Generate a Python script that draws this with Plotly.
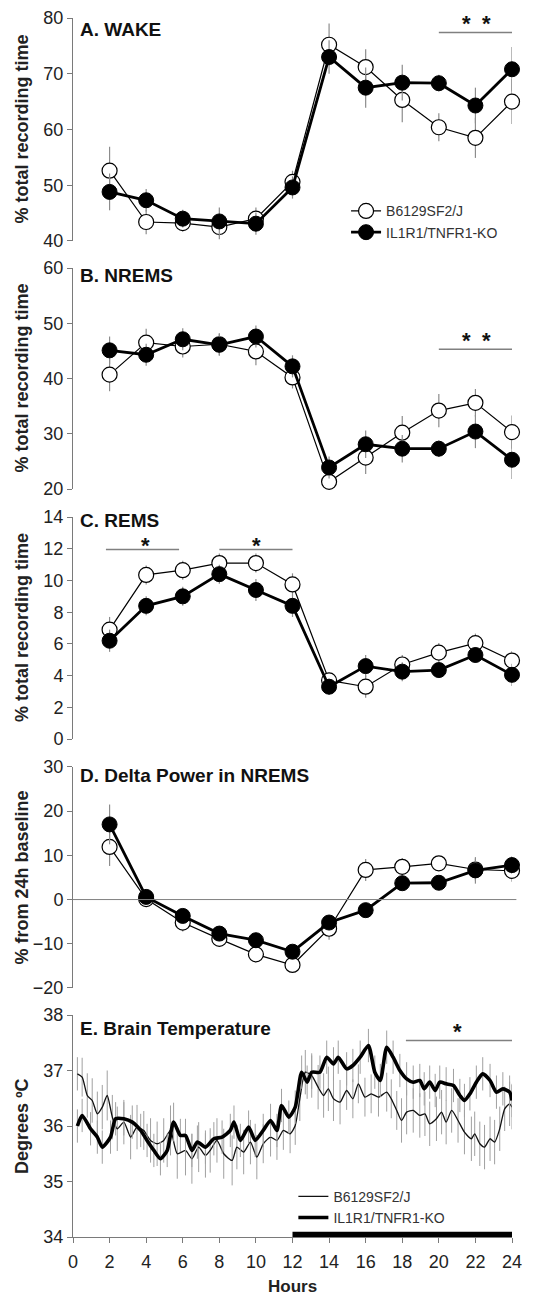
import plotly.graph_objects as go

# ---------------- data ----------------
hours = [2, 4, 6, 8, 10, 12, 14, 16, 18, 20, 22, 24]

wake_wt = [52.6, 43.4, 43.2, 42.5, 44.0, 50.6, 75.2, 71.2, 65.3, 60.4, 58.5, 65.0]
wake_wt_se = [4.3, 2.2, 1.5, 2.2, 2.0, 2.0, 3.8, 3.2, 4.0, 2.5, 3.6, 4.0]
wake_ko = [48.8, 47.3, 44.0, 43.5, 43.1, 49.6, 73.0, 67.5, 68.4, 68.3, 64.3, 70.8]
wake_ko_se = [3.3, 2.0, 1.6, 2.5, 2.0, 2.0, 3.0, 3.6, 3.2, 1.5, 3.2, 4.0]

nrems_wt = [40.7, 46.5, 45.8, 46.2, 44.9, 40.2, 21.3, 25.7, 30.2, 34.2, 35.6, 30.3]
nrems_wt_se = [3.0, 2.5, 2.0, 2.0, 2.5, 2.0, 1.5, 3.0, 3.0, 3.0, 2.5, 3.0]
nrems_ko = [45.1, 44.3, 47.1, 46.1, 47.6, 42.2, 23.9, 28.1, 27.3, 27.3, 30.4, 25.3]
nrems_ko_se = [2.5, 2.0, 2.0, 2.0, 2.0, 2.0, 2.0, 2.5, 2.5, 1.5, 3.0, 3.5]

rems_wt = [6.9, 10.35, 10.65, 11.1, 11.1, 9.75, 3.7, 3.3, 4.7, 5.45, 6.05, 4.95]
rems_wt_se = [0.8, 0.6, 0.6, 0.6, 0.6, 0.7, 0.5, 0.7, 0.6, 0.6, 0.6, 0.6]
rems_ko = [6.2, 8.4, 9.0, 10.4, 9.4, 8.4, 3.3, 4.6, 4.25, 4.35, 5.3, 4.05]
rems_ko_se = [0.7, 0.6, 0.6, 0.6, 0.7, 0.7, 0.5, 0.7, 0.6, 0.5, 0.5, 0.7]

delta_wt = [11.9, 0.1, -5.2, -8.9, -12.4, -14.8, -6.6, 6.7, 7.4, 8.2, 6.8, 6.5]
delta_wt_se = [4.3, 1.8, 2.0, 1.2, 1.2, 1.2, 2.5, 2.5, 2.0, 1.2, 2.5, 2.5]
delta_ko = [17.0, 0.6, -3.7, -7.7, -9.2, -11.8, -5.2, -2.4, 3.7, 3.8, 6.6, 7.8]
delta_ko_se = [4.5, 1.2, 1.2, 1.2, 1.2, 1.2, 1.5, 1.2, 1.2, 1.2, 3.0, 2.0]

temp_wt_h = [0.24, 0.5, 0.78, 1.05, 1.33, 1.6, 1.87, 2.15, 2.42, 2.78, 3.15, 3.5, 3.87, 4.24,
             4.6, 4.96, 5.33, 5.7, 6.15, 6.5, 6.87, 7.24, 7.5, 7.87, 8.24, 8.7, 8.96, 9.33,
             9.7, 10.05, 10.4, 10.8, 11.15, 11.5, 11.87, 12.15, 12.4, 12.7, 13.05, 13.4, 13.7,
             13.96, 14.24, 14.6, 14.96, 15.3, 15.6, 15.96, 16.3, 16.7, 17.15, 17.4, 17.7, 17.96,
             18.24, 18.6, 18.96, 19.24, 19.5, 19.87, 20.15, 20.4, 20.7, 21.05, 21.4, 21.78,
             21.96, 22.24, 22.5, 22.8, 23.05, 23.33, 23.6, 23.87, 24.0]
temp_wt = [36.94, 36.88, 36.55, 36.46, 36.22, 36.34, 36.55, 36.16, 35.95, 36.07, 35.80, 35.98,
           35.92, 35.74, 35.68, 35.74, 35.92, 35.50, 35.56, 35.41, 35.62, 35.47, 35.56, 35.74,
           35.50, 35.38, 35.62, 35.53, 35.71, 35.44, 35.68, 35.80, 35.74, 35.92, 35.86, 36.01,
           36.49, 36.97, 36.91, 36.70, 36.55, 36.67, 36.49, 36.43, 36.64, 36.49, 36.76, 36.52,
           36.58, 36.52, 36.61, 36.49, 36.28, 36.10, 36.25, 36.28, 36.19, 36.22, 36.04, 36.13,
           36.25, 36.07, 36.28, 36.10, 35.89, 35.77, 35.86, 35.68, 35.62, 35.77, 35.71, 35.95,
           36.31, 36.40, 36.34]
temp_wt_se = [0.30, 0.35, 0.40, 0.40, 0.40, 0.40, 0.45, 0.40, 0.40, 0.40, 0.40, 0.40, 0.35,
              0.40, 0.40, 0.40, 0.45, 0.45, 0.45, 0.45, 0.45, 0.40, 0.40, 0.40, 0.45, 0.45,
              0.40, 0.40, 0.40, 0.40, 0.35, 0.35, 0.35, 0.35, 0.35, 0.35, 0.40, 0.40, 0.40,
              0.40, 0.40, 0.40, 0.40, 0.40, 0.35, 0.35, 0.35, 0.35, 0.35, 0.35, 0.35, 0.35,
              0.35, 0.40, 0.40, 0.40, 0.40, 0.40, 0.40, 0.40, 0.40, 0.40, 0.40, 0.40, 0.40,
              0.40, 0.40, 0.40, 0.40, 0.40, 0.40, 0.40, 0.40, 0.40, 0.40]

temp_ko_h = [0.24, 0.5, 0.96, 1.33, 1.6, 2.05, 2.33, 2.78, 3.24, 3.7, 4.05, 4.42, 4.78, 5.15,
             5.5, 5.87, 6.15, 6.5, 6.8, 7.24, 7.7, 8.15, 8.6, 8.8, 9.15, 9.6, 9.96, 10.4, 10.8,
             11.15, 11.4, 11.8, 12.15, 12.5, 12.8, 13.05, 13.5, 13.87, 14.24, 14.5, 14.96, 15.3,
             15.7, 16.15, 16.5, 16.8, 17.15, 17.5, 17.87, 18.24, 18.6, 18.96, 19.2, 19.5, 19.8,
             20.05, 20.4, 20.8, 21.15, 21.4, 21.7, 22.05, 22.4, 22.8, 23.15, 23.5, 23.87, 24.0]
temp_ko = [36.00, 36.19, 35.95, 35.80, 35.62, 35.80, 36.13, 36.13, 36.07, 35.92, 35.74, 35.56,
           35.41, 35.56, 36.07, 35.83, 35.83, 35.56, 35.71, 35.62, 35.77, 35.80, 35.92, 36.07,
           35.74, 35.98, 35.74, 35.92, 36.10, 35.92, 36.37, 36.16, 36.34, 36.97, 36.79, 36.97,
           36.97, 37.24, 37.12, 37.24, 37.03, 37.09, 37.24, 37.45, 36.97, 36.82, 37.42, 37.24,
           37.00, 36.85, 36.79, 36.82, 36.67, 36.79, 36.64, 36.79, 36.76, 36.73, 36.55, 36.46,
           36.58, 36.79, 36.94, 36.82, 36.61, 36.67, 36.61, 36.46]
temp_ko_se = [0.30, 0.30, 0.30, 0.30, 0.30, 0.30, 0.30, 0.30, 0.30, 0.30, 0.30, 0.30, 0.30,
              0.30, 0.35, 0.30, 0.30, 0.30, 0.30, 0.30, 0.30, 0.30, 0.30, 0.30, 0.30, 0.30,
              0.30, 0.30, 0.30, 0.30, 0.30, 0.30, 0.30, 0.30, 0.30, 0.30, 0.30, 0.30, 0.30,
              0.30, 0.30, 0.30, 0.30, 0.30, 0.30, 0.30, 0.30, 0.30, 0.30, 0.30, 0.30, 0.30,
              0.30, 0.30, 0.30, 0.30, 0.30, 0.30, 0.30, 0.30, 0.30, 0.30, 0.30, 0.30, 0.30,
              0.30, 0.30, 0.30]

wt_name = "B6129SF2/J"
ko_name = "IL1R1/TNFR1-KO"

panel_titles = ["A. WAKE", "B. NREMS", "C. REMS", "D. Delta Power in NREMS", "E. Brain Temperature"]
y_titles = ["% total recording time", "% total recording time", "% total recording time",
            "% from 24h baseline", "Degrees ºC"]
x_title = "Hours"
y_ranges = [[40, 80], [20, 60], [0, 14], [-20, 30], [34, 38]]
y_dticks = [10, 10, 2, 10, 1]
x_ticks = [0, 2, 4, 6, 8, 10, 12, 14, 16, 18, 20, 22, 24]

# significance bars: (panel index, x0, x1, y, star x positions, star y, star anchor)
sig_bars = [
    (0, 20, 24, 77.4, [21.5, 22.6], 79.0, "middle"),
    (1, 20, 24.1, 45.3, [21.5, 22.6], 46.9, "middle"),
    (2, 1.8, 5.8, 11.95, [3.95], 13.05, "top"),
    (2, 8.0, 12.0, 11.95, [10.05], 13.05, "top"),
    (4, 18.2, 24.1, 37.54, [21.0], 37.70, "middle"),
]

# ---------------- layout geometry ----------------
domains = [[0.8171, 1.0], [0.6136, 0.7949], [0.4085, 0.5906], [0.2043, 0.3856], [0.0, 0.1821]]
title_offsets = [11.7, 7.4, 3.4, 8.3, 13.0]  # px below panel top

FONT = "Liberation Sans, Arial, sans-serif"
AXCOL = "#7a7a7a"
TXT = "#222222"
ERRCOL = "#8c8c8c"

fig = go.Figure()

panels = [
    (wake_wt, wake_wt_se, wake_ko, wake_ko_se),
    (nrems_wt, nrems_wt_se, nrems_ko, nrems_ko_se),
    (rems_wt, rems_wt_se, rems_ko, rems_ko_se),
    (delta_wt, delta_wt_se, delta_ko, delta_ko_se),
]

for i, (wt, wt_se, ko, ko_se) in enumerate(panels):
    xa = "x" if i == 0 else f"x{i+1}"
    ya = "y" if i == 0 else f"y{i+1}"
    fig.add_trace(go.Scatter(
        x=hours, y=wt, xaxis=xa, yaxis=ya, name=wt_name, mode="lines+markers",
        line=dict(color="black", width=1.2),
        marker=dict(size=15, color="white", line=dict(color="black", width=1.2)),
        error_y=dict(type="data", array=wt_se, color=ERRCOL, thickness=1.2, width=0),
        cliponaxis=False, showlegend=(i == 0), legend="legend"))
    fig.add_trace(go.Scatter(
        x=hours, y=ko, xaxis=xa, yaxis=ya, name=ko_name, mode="lines+markers",
        line=dict(color="black", width=2.8),
        marker=dict(size=15, color="black", line=dict(color="black", width=1)),
        error_y=dict(type="data", array=ko_se, color=ERRCOL, thickness=1.2, width=0),
        cliponaxis=False, showlegend=(i == 0), legend="legend"))

fig.add_trace(go.Scatter(
    x=temp_wt_h, y=temp_wt, xaxis="x5", yaxis="y5", name=wt_name, mode="lines",
    line=dict(color="#111111", width=1.3, shape="spline", smoothing=0.6),
    error_y=dict(type="data", array=temp_wt_se, color="#a0a0a0", thickness=1, width=0),
    legend="legend2"))
fig.add_trace(go.Scatter(
    x=temp_ko_h, y=temp_ko, xaxis="x5", yaxis="y5", name=ko_name, mode="lines",
    line=dict(color="black", width=3.6, shape="spline", smoothing=0.6),
    error_y=dict(type="data", array=temp_ko_se, color="#a0a0a0", thickness=1, width=0),
    legend="legend2"))

layout = dict(
    width=536, height=1295,
    margin=dict(l=73, r=24, t=18, b=58, autoexpand=False),
    paper_bgcolor="white", plot_bgcolor="white",
    font=dict(family=FONT, color=TXT),
    showlegend=True,
    legend=dict(x=0.622, y=0.8545, xanchor="left", yanchor="top",
                font=dict(size=14, color="#333333"), bgcolor="rgba(0,0,0,0)",
                tracegroupgap=0, itemwidth=30),
    legend2=dict(x=0.502, y=0.0462, xanchor="left", yanchor="top",
                 font=dict(size=14, color="#333333"), bgcolor="rgba(0,0,0,0)",
                 tracegroupgap=0, itemwidth=30),
)

annotations = []
shapes = []
for i in range(5):
    xk = "xaxis" if i == 0 else f"xaxis{i+1}"
    yk = "yaxis" if i == 0 else f"yaxis{i+1}"
    ya = "y" if i == 0 else f"y{i+1}"
    xa = "x" if i == 0 else f"x{i+1}"
    last = (i == 4)
    layout[xk] = dict(
        domain=[0, 1], range=[0, 24], anchor=ya, automargin=False,
        visible=last, showgrid=False, zeroline=False,
        showline=True, linecolor=AXCOL, linewidth=1,
        ticks="outside", ticklen=5, tickcolor=AXCOL,
        tickvals=x_ticks, tickfont=dict(size=18, color=TXT), ticklabelstandoff=3,
    )
    if i > 0:
        layout[xk]["matches"] = "x"
    r = y_ranges[i]
    layout[yk] = dict(
        domain=domains[i], range=r, anchor=xa, automargin=False,
        showgrid=False, zeroline=False,
        showline=True, linecolor=AXCOL, linewidth=1,
        ticks="outside", ticklen=5, tickcolor=AXCOL,
        dtick=y_dticks[i], tick0=r[0], tickfont=dict(size=18, color=TXT),
    )
    h_px = (domains[i][1] - domains[i][0]) * 1219
    annotations.append(dict(
        text=f"<b>{panel_titles[i]}</b>", xref=f"{xa} domain", yref=f"{ya} domain",
        x=0.0114, y=1 - title_offsets[i] / h_px, xanchor="left", yanchor="middle",
        showarrow=False, font=dict(size=19, color="#111111")))
    annotations.append(dict(
        text=f"<b>{y_titles[i]}</b>", xref="paper", yref=f"{ya} domain",
        x=-51 / 439, y=0.5, xanchor="center", yanchor="middle", textangle=-90,
        showarrow=False, font=dict(size=18, color=TXT)))

# x-axis title (Hours)
annotations.append(dict(
    text=f"<b>{x_title}</b>", xref="paper", yref="paper", x=0.5, y=-49 / 1219,
    xanchor="center", yanchor="middle", showarrow=False,
    font=dict(size=17, color=TXT)))

for (pi, x0, x1, yv, sx, sy, anc) in sig_bars:
    xa = "x" if pi == 0 else f"x{pi+1}"
    ya = "y" if pi == 0 else f"y{pi+1}"
    shapes.append(dict(type="line", xref=xa, yref=ya, x0=x0, x1=x1, y0=yv, y1=yv,
                       line=dict(color="#808080", width=1.6)))
    for s in sx:
        annotations.append(dict(text="<b>*</b>", xref=xa, yref=ya, x=s, y=sy,
                                xanchor="center", yanchor=anc, showarrow=False,
                                borderpad=0,
                                font=dict(size=22, color="#111111")))

# zero line in panel D
shapes.append(dict(type="line", xref="x4 domain", yref="y4", x0=0, x1=1.01, y0=0, y1=0,
                   line=dict(color="#808080", width=1)))
# dark period bar in panel E
shapes.append(dict(type="rect", xref="x5", yref="y5 domain", x0=12, x1=24, y0=0, y1=0.024,
                   fillcolor="black", line=dict(width=0)))

layout["annotations"] = annotations
layout["shapes"] = shapes
fig.update_layout(**layout)

fig.write_html("out.html")
